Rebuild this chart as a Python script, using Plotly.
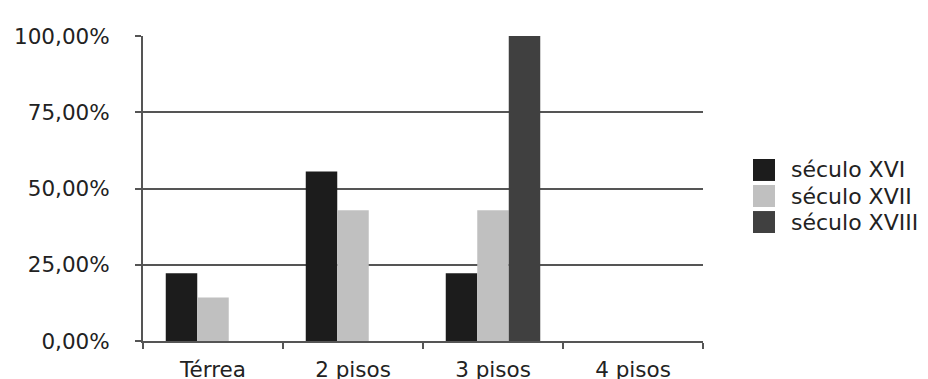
import plotly.graph_objects as go

categories = ["Térrea", "2 pisos", "3 pisos", "4 pisos"]
series_names = ["século XVI", "século XVII", "século XVIII"]
seculo_xvi = [22.22, 55.56, 22.22, 0]
seculo_xvii = [14.29, 42.86, 42.86, 0]
seculo_xviii = [0, 0, 100, 0]
tick_vals = [0, 25, 50, 75, 100]
tick_text = ["0,00%", "25,00%", "50,00%", "75,00%", "100,00%"]
colors = ["#1c1c1c", "#c0c0c0", "#404040"]

fig = go.Figure()
for name, vals, c in zip(series_names, [seculo_xvi, seculo_xvii, seculo_xviii], colors):
    fig.add_trace(go.Bar(x=categories, y=vals, name=name, showlegend=False,
                         marker=dict(color=c, line=dict(width=0))))

# manual legend (large square swatches), in paper coordinates
leg_x0, leg_x1, leg_text_x = 1.0893, 1.1286, 1.1536
leg_y_top, leg_step, half = 0.5607, 0.0853, 0.036
for i, (name, c) in enumerate(zip(series_names, colors)):
    yc = leg_y_top - i * leg_step
    fig.add_shape(type="rect", xref="paper", yref="paper",
                  x0=leg_x0, x1=leg_x1, y0=yc - half, y1=yc + half,
                  fillcolor=c, line=dict(width=0))
    fig.add_annotation(xref="paper", yref="paper", x=leg_text_x, y=yc,
                       xanchor="left", yanchor="middle", text=name, showarrow=False,
                       font=dict(size=22, color="#222222"))

fig.update_layout(
    width=920, height=371,
    margin=dict(l=135, r=225, t=28, b=38, autoexpand=False),
    paper_bgcolor="white", plot_bgcolor="white",
    barmode="group", bargap=0.325, bargroupgap=0,
    font=dict(family="DejaVu Sans", size=21.5, color="#222222"),
    showlegend=False,
)
fig.update_xaxes(
    automargin=False,
    showgrid=False, showline=True, linecolor="#555555", linewidth=2,
    ticks="outside", tickson="boundaries", ticklen=6, tickcolor="#555555", tickwidth=2,
    ticklabelstandoff=8,
)
fig.update_yaxes(
    automargin=False,
    range=[0, 100], tickvals=tick_vals, ticktext=tick_text,
    showgrid=True, gridcolor="#555555", gridwidth=2,
    showline=True, linecolor="#555555", linewidth=2,
    ticks="outside", ticklen=6, tickcolor="#555555", tickwidth=2,
    ticklabelstandoff=21, zeroline=False,
)
fig.write_html("out.html")
